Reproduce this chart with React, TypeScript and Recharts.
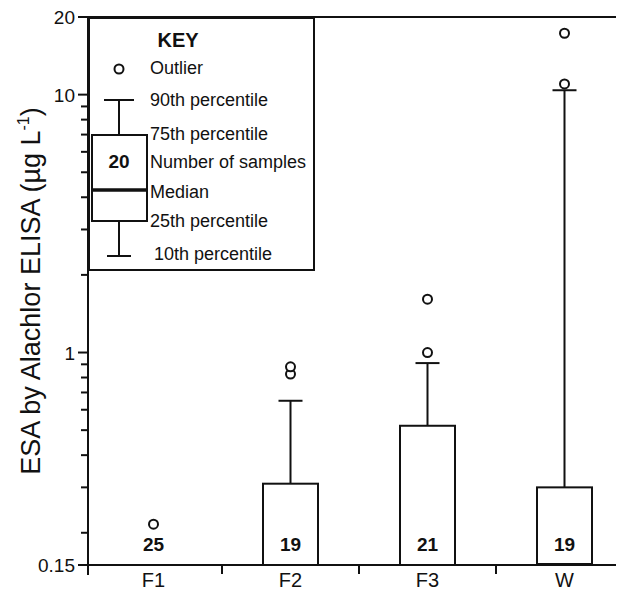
import { ComposedChart, Bar, Line, XAxis, YAxis, Legend, ReferenceLine } from "recharts";

const categories = ["F1", "F2", "F3", "W"];
const sampleCounts = [25, 19, 21, 19];
const pct25 = [0.15, 0.15, 0.15, 0.15];
const pct75 = [0.15, 0.31, 0.52, 0.3];
const pct90 = [null, 0.65, 0.91, 10.4];
const medians = [null, null, null, 0.15];
const outliersA = [0.216, 0.825, 1.0, 11.0];
const outliersB = [null, 0.88, 1.61, 17.3];

const yLabels = [0.15, 1, 10, 20];
const yTicks = [
  0.15, 0.2, 0.3, 0.4, 0.5, 0.6, 0.7, 0.8, 0.9,
  1, 2, 3, 4, 5, 6, 7, 8, 9, 10, 20,
];

const data = categories.map((cat, i) => ({
  cat,
  n: sampleCounts[i],
  box: [pct25[i], pct75[i]],
  whisker: pct90[i] != null ? [pct75[i], pct90[i]] : null,
  median: medians[i] != null ? [medians[i], medians[i]] : null,
  o1: outliersA[i],
  o2: outliersB[i],
}));

const FONT = "'Liberation Sans', Arial, Helvetica, sans-serif";
const INK = "#111";
const xPad = { left: -3, right: -12 };

function BoxShape(props: any) {
  const { x, y, width, height, payload } = props;
  return (
    <g>
      {height > 0.5 && (
        <rect x={x} y={y} width={width} height={height} fill="#fff" stroke={INK} strokeWidth={2} />
      )}
      <text
        x={x + width / 2}
        y={y + height - 14}
        textAnchor="middle"
        fontFamily={FONT}
        fontWeight="bold"
        fontSize={19}
        fill={INK}
      >
        {payload.n}
      </text>
    </g>
  );
}

function WhiskerShape(props: any) {
  const { x, y, width, height } = props;
  if (y == null || isNaN(y)) return null;
  const cx = x + width / 2;
  return (
    <g stroke={INK} strokeWidth={2}>
      <line x1={cx} y1={y + height} x2={cx} y2={y} />
      <line x1={cx - 12} y1={y} x2={cx + 12} y2={y} />
    </g>
  );
}

function MedianShape(props: any) {
  const { x, y, width } = props;
  if (y == null || isNaN(y)) return null;
  return <line x1={x} y1={y} x2={x + width} y2={y} stroke={INK} strokeWidth={4} />;
}

function YTick(props: any) {
  const { x, y, payload } = props;
  const major = yLabels.includes(payload.value);
  const bottom = payload.value === yLabels[0];
  return (
    <g>
      <line x1={x} y1={y} x2={x - (major ? 10 : 7)} y2={y} stroke={INK} strokeWidth={2} />
      {bottom && <line x1={x} y1={y} x2={x} y2={y + 10} stroke={INK} strokeWidth={2} />}
      {major && (
        <text x={x - 13} y={y + 7} textAnchor="end" fontFamily={FONT} fontSize={19} fill={INK}>
          {payload.value}
        </text>
      )}
    </g>
  );
}

function XTick(props: any) {
  const { x, y, payload, index } = props;
  const half = payload.offset ?? 68.5;
  return (
    <g>
      {index > 0 && (
        <line x1={x - half} y1={y} x2={x - half} y2={y + 9} stroke={INK} strokeWidth={2} />
      )}
      <text x={x} y={y + 22} textAnchor="middle" fontFamily={FONT} fontSize={20} fill={INK}>
        {payload.value}
      </text>
    </g>
  );
}

function YLabel(props: any) {
  const vb = props.viewBox || { x: 20, y: 9, height: 548 };
  const cx = vb.x + 12;
  const cy = vb.y + vb.height / 2;
  return (
    <text
      x={cx}
      y={cy}
      transform={`rotate(-90, ${cx}, ${cy})`}
      textAnchor="middle"
      fontFamily={FONT}
      fontSize={27}
      fill={INK}
    >
      ESA by Alachlor ELISA (µg L
      <tspan fontSize={16} dy={-11}>-1</tspan>
      <tspan dy={11}>)</tspan>
    </text>
  );
}

function KeyBox() {
  const t = { fontFamily: FONT, fontSize: 18, fill: INK };
  const cx = 31;
  return (
    <svg width={227} height={254} style={{ display: "block" }}>
      <rect x={1} y={1} width={225} height={252} fill="#fff" stroke={INK} strokeWidth={2} />
      <text x={90} y={30} textAnchor="middle" fontFamily={FONT} fontSize={20} fontWeight="bold" fill={INK}>
        KEY
      </text>
      <circle cx={cx} cy={52} r={4.5} fill="#fff" stroke={INK} strokeWidth={2} />
      <text x={62} y={57} {...t}>Outlier</text>
      <g stroke={INK} strokeWidth={2}>
        <line x1={cx - 15} y1={83} x2={cx + 15} y2={83} />
        <line x1={cx} y1={83} x2={cx} y2={118} />
        <rect x={4} y={118} width={55} height={86} fill="#fff" />
        <line x1={cx} y1={204} x2={cx} y2={239} />
        <line x1={cx - 12} y1={239} x2={cx + 12} y2={239} />
      </g>
      <line x1={4} y1={173} x2={59} y2={173} stroke={INK} strokeWidth={3.5} />
      <text x={cx} y={151} textAnchor="middle" fontFamily={FONT} fontSize={19} fontWeight="bold" fill={INK}>
        20
      </text>
      <text x={62} y={89} {...t}>90th percentile</text>
      <text x={62} y={123} {...t}>75th percentile</text>
      <text x={62} y={151} {...t}>Number of samples</text>
      <text x={62} y={181} {...t}>Median</text>
      <text x={62} y={210} {...t}>25th percentile</text>
      <text x={66} y={243} {...t}>10th percentile</text>
    </svg>
  );
}

export default function App() {
  return (
    <div style={{ position: "relative", width: 616, height: 584, overflow: "hidden", background: "#fff" }}>
      <ComposedChart
        width={616}
        height={584}
        data={data}
        margin={{ top: 9, right: 3, bottom: 0, left: 20 }}
      >
        <XAxis
          dataKey="cat"
          padding={xPad}
          height={27}
          tickSize={0}
          tickMargin={0}
          tick={<XTick />}
          axisLine={{ stroke: INK, strokeWidth: 2 }}
          tickLine={false}
        />
        <XAxis xAxisId="wh" dataKey="cat" padding={xPad} hide />
        <XAxis xAxisId="med" dataKey="cat" padding={xPad} hide />
        <YAxis
          scale="log"
          type="number"
          domain={[0.15, 20]}
          allowDataOverflow
          ticks={yTicks}
          interval={0}
          width={60}
          tickSize={0}
          tickMargin={0}
          tick={<YTick />}
          tickLine={false}
          axisLine={{ stroke: INK, strokeWidth: 2 }}
          label={YLabel}
        />
        <Legend
          layout="vertical"
          align="center"
          verticalAlign="middle"
          content={KeyBox}
          wrapperStyle={{ position: "absolute", top: 9, left: 80, width: 227, height: 254 }}
        />
        <ReferenceLine y={20} stroke={INK} strokeWidth={2} />
        <Bar dataKey="whisker" xAxisId="wh" barSize={55} shape={WhiskerShape} isAnimationActive={false} />
        <Bar dataKey="box" barSize={55} shape={BoxShape} isAnimationActive={false} />
        <Bar dataKey="median" xAxisId="med" barSize={55} shape={MedianShape} isAnimationActive={false} />
        <Line
          dataKey="o1"
          stroke="none"
          dot={{ r: 4.5, fill: "#fff", stroke: INK, strokeWidth: 2 }}
          activeDot={false}
          isAnimationActive={false}
        />
        <Line
          dataKey="o2"
          stroke="none"
          dot={{ r: 4.5, fill: "#fff", stroke: INK, strokeWidth: 2 }}
          activeDot={false}
          isAnimationActive={false}
        />
      </ComposedChart>
      {/* short right edge of the frame, as in the scan */}
      <div style={{ position: "absolute", left: 612, top: 8, width: 2, height: 84, background: INK }} />
    </div>
  );
}
